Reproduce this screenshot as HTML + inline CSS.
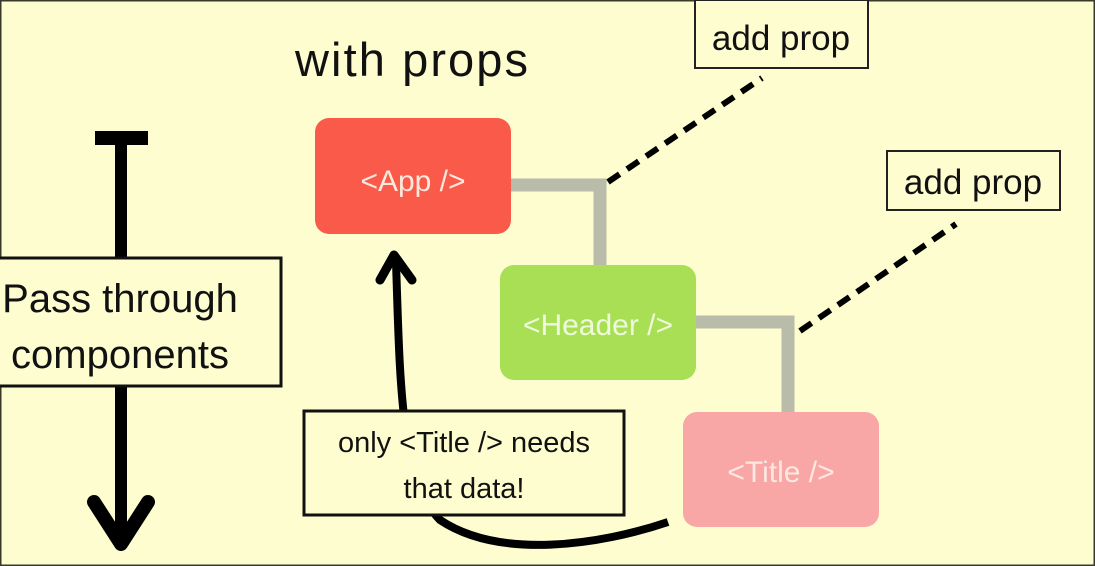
<!DOCTYPE html>
<html><head><style>
body{margin:0;width:1095px;height:566px;overflow:hidden;background:#fdfdd0;font-family:"Liberation Sans",sans-serif;}
svg{position:absolute;left:0;top:0}
</style></head><body>
<svg width="1095" height="566" viewBox="0 0 1095 566">
<rect x="0" y="0" width="1095" height="566" fill="#fdfdd0" stroke="#3a3a2a" stroke-width="3"/>
<text x="295" y="76" font-size="47" fill="#111" font-family="Liberation Sans,sans-serif" textLength="233">with props</text>
<!-- connectors -->
<polyline points="511,185 600,185 600,266" fill="none" stroke="#b9bca9" stroke-width="13"/>
<polyline points="696,322 788,322 788,413" fill="none" stroke="#b9bca9" stroke-width="13"/>
<line x1="608" y1="182" x2="762" y2="78" stroke="#000" stroke-width="6" stroke-dasharray="14,9"/>
<line x1="800" y1="331" x2="956" y2="224" stroke="#000" stroke-width="6" stroke-dasharray="14,9"/>
<!-- boxes -->
<rect x="315" y="118" width="196" height="116" rx="14" fill="#fa5a4a"/>
<text x="413" y="191" font-size="30" fill="#fde8dd" text-anchor="middle">&lt;App /&gt;</text>
<rect x="500" y="265" width="196" height="115" rx="14" fill="#a8df55"/>
<text x="598" y="335" font-size="30" fill="#effadd" text-anchor="middle">&lt;Header /&gt;</text>
<rect x="683" y="412" width="196" height="115" rx="14" fill="#f9a6a6"/>
<text x="781" y="482" font-size="30" fill="#fde8e0" text-anchor="middle">&lt;Title /&gt;</text>
<!-- add prop -->
<rect x="695" y="0" width="173" height="68" fill="#fdfdd0" stroke="#222" stroke-width="2"/>
<text x="781" y="50" font-size="35" fill="#111" text-anchor="middle">add prop</text>
<rect x="887" y="151" width="173" height="59" fill="#fdfdd0" stroke="#222" stroke-width="2"/>
<text x="973" y="194" font-size="35" fill="#111" text-anchor="middle">add prop</text>
<!-- left arrow -->
<rect x="95" y="131" width="53" height="14" fill="#000"/>
<line x1="121" y1="140" x2="121" y2="540" stroke="#000" stroke-width="12"/>
<polyline points="94,502 121,544 148,502" fill="none" stroke="#000" stroke-width="14" stroke-linejoin="round" stroke-linecap="round"/>
<rect x="-3" y="258" width="284" height="128" fill="#fdfdd0" stroke="#111" stroke-width="3"/>
<text x="120" y="312" font-size="40" fill="#111" text-anchor="middle">Pass through</text>
<text x="120" y="368" font-size="40" fill="#111" text-anchor="middle">components</text>
<!-- curve -->
<path d="M668,522 C600,545 500,560 440,520 C400,480 400,380 396,262" fill="none" stroke="#000" stroke-width="8"/>
<polyline points="380,280 394,255 412,280" fill="none" stroke="#000" stroke-width="9" stroke-linejoin="round" stroke-linecap="round"/>
<rect x="304" y="411" width="320" height="104" fill="#fdfdd0" stroke="#111" stroke-width="3"/>
<text x="464" y="452" font-size="29" fill="#111" text-anchor="middle">only &lt;Title /&gt; needs</text>
<text x="464" y="498" font-size="29" fill="#111" text-anchor="middle">that data!</text>
</svg>
</body></html>
